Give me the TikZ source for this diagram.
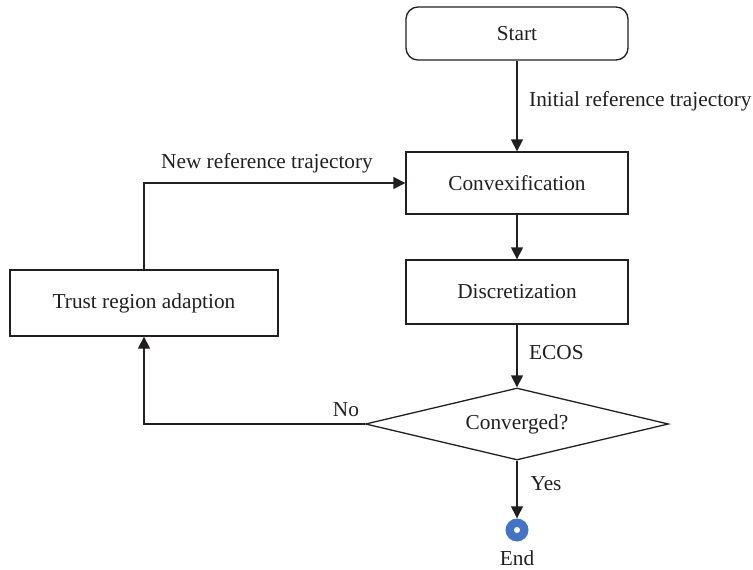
\documentclass[tikz,border=0pt]{standalone}
\usepackage{fontspec}
\setmainfont{Liberation Serif}
\usetikzlibrary{shapes.geometric,arrows.meta}
\definecolor{endblue}{HTML}{4472C4}
\definecolor{ink}{HTML}{231F20}
\begin{document}
\begin{tikzpicture}[x=1pt,y=-1pt,
  every node/.style={font=\fontsize{21.3}{24}\selectfont, text=ink},
  procbox/.style={draw=ink, line width=1.3pt, minimum width=222pt, minimum height=62pt, inner sep=0pt},
  flow/.style={draw=ink, line width=1.3pt, -{Triangle[length=12pt,width=12pt]}},
  lbl/.style={inner sep=1pt}]
\useasboundingbox (0,0) rectangle (753,570);

% process boxes, all on the centre line x = 517
\node[procbox, rounded corners=12pt, minimum height=53pt] (start) at (517,33.5) {Start};
\node[procbox] (convex) at (517,183) {Convexification};
\node[procbox, minimum height=64pt] (disc) at (517,292) {Discretization};
\node[procbox, minimum width=268pt, minimum height=66pt] (trust) at (144,303) {Trust region adaption};

% decision
\node[draw=ink, line width=1.3pt, diamond, shape aspect=4.2, inner sep=0pt,
      minimum width=303pt, minimum height=72pt] (conv) at (517,424) {Converged?};

% terminal
\node[circle, fill=endblue, minimum size=23pt, inner sep=0pt] (end) at (517,530) {};
\node[circle, fill=white, minimum size=6pt, inner sep=0pt] (enddot) at (end.center) {};
\node (endlbl) at (517,558) {End};

% connectors
\draw[flow] (start.south) -- (convex.north);
\draw[flow] (convex.south) -- (disc.north);
\draw[flow] (disc.south) -- (conv.north);
\draw[flow] (conv.west) -| (trust.south);
\draw[flow] (trust.north) |- (convex.west);
\draw[flow] (conv.south) -- (end.north);

% labels
\node[lbl, anchor=west] (l1) at (528,101) {Initial reference trajectory};
\node[lbl] (l2) at (267,163) {New reference trajectory};
\node[lbl, anchor=west] (l3) at (528,353) {ECOS};
\node[lbl] (l4) at (346,410) {No};
\node[lbl] (l5) at (546,484) {Yes};
\end{tikzpicture}
\end{document}
